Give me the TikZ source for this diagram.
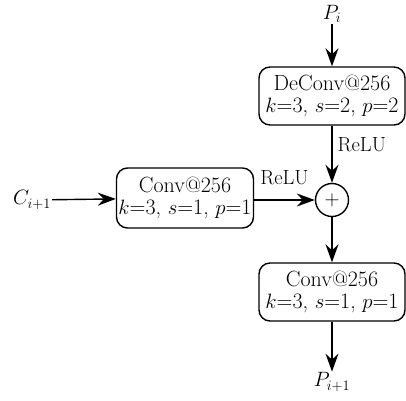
\documentclass[tikz,border=0pt]{standalone}
\usetikzlibrary{arrows.meta}
\begin{document}
\begin{tikzpicture}[x=1pt,y=-1pt,
  every node/.style={font=\fontsize{20.5}{23}\selectfont},
  blk/.style={draw, line width=1.4pt, rounded corners=11pt, minimum width=146pt, minimum height=58pt, align=center, inner sep=1pt, font=\fontsize{22}{24}\selectfont},
  arr/.style={line width=1.4pt, -{Stealth[length=18pt, width=13pt, inset=6pt]}},
  lbl/.style={inner sep=1pt},
  term/.style={inner sep=1pt, font=\fontsize{22}{24}\selectfont}]
\useasboundingbox (0,0) rectangle (406,400);
\node[term] (pi) at (332,14) {$P_i$};
\node[blk] (dc) at (332,96) {DeConv@256\\[-2pt]$k$=3, $s$=2, $p$=2};
\node[draw, circle, line width=1.4pt, minimum size=33pt, inner sep=0pt] (add) at (332,200) {$+$};
\node[blk, minimum width=137pt, minimum height=60pt] (cl) at (185,198) {Conv@256\\[-2pt]$k$=3, $s$=1, $p$=1};
\node[term] (ci) at (32,200) {$C_{i+1}$};
\node[blk] (cb) at (332,292) {Conv@256\\[-2pt]$k$=3, $s$=1, $p$=1};
\node[term] (pn) at (332,382) {$P_{i+1}$};
\draw[arr] (pi) -- (dc);
\draw[arr] (dc) -- node[right, lbl, xshift=4pt, yshift=10pt] {ReLU} (add);
\draw[arr] (ci) -- (cl);
\draw[arr] (cl.east |- add.west) -- node[above, lbl, yshift=13pt] {ReLU} (add.west);
\draw[arr] (add) -- (cb);
\draw[arr] (cb) -- (pn);
\end{tikzpicture}
\end{document}
